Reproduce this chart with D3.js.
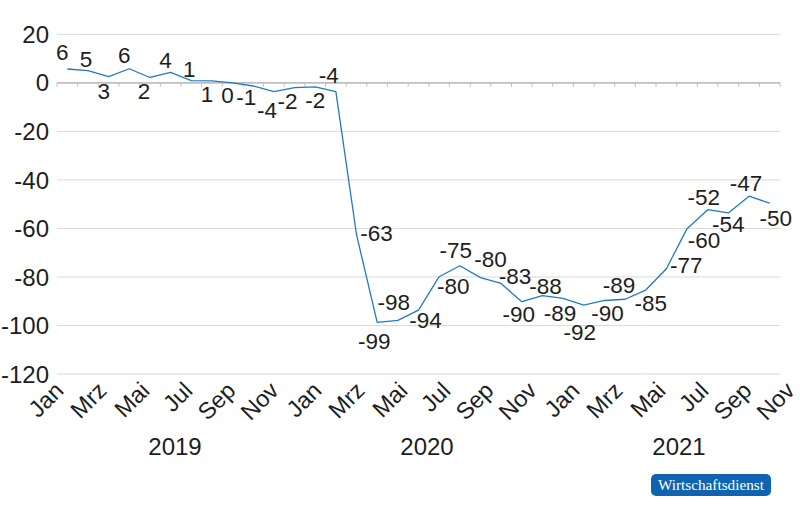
<!DOCTYPE html>
<html><head><meta charset="utf-8">
<script src="https://cdn.jsdelivr.net/npm/d3@7"></script>
<style>
html,body{margin:0;padding:0;background:#fff;}
svg{display:block;font-family:"Liberation Sans",Arial,Helvetica,sans-serif;}
</style></head>
<body><svg id="chart" width="800" height="521"></svg>
<script>
// ---- data ----
const months = ["Jan","Feb","Mrz","Apr","Mai","Jun","Jul","Aug","Sep","Okt","Nov","Dez"];
const years = ["2019","2020","2021"];
const categories = [];
years.forEach(y => months.forEach((m, i) => { if (!(y === "2021" && i === 11)) categories.push({year: y, month: m}); }));
const values = [
  5.7, 5.0, 2.6, 5.8, 2.2, 4.3, 0.9, 0.8, 0.0, -1.3, -3.6, -2.0,
  -1.7, -3.6, -62.6, -98.7, -97.9, -93.7, -79.9, -75.4, -80.3, -82.7, -90.2, -87.7,
  -88.8, -91.6, -89.7, -89.2, -85.4, -76.6, -60.1, -52.3, -53.6, -46.7, -49.6
];
const yTicks = [20, 0, -20, -40, -60, -80, -100, -120];

// label placement (pixel offsets of each data label from its point)
const labelOffsets = [
  [-5,-17],[-2,-12],[-5,14],[-5,-14],[-6,13],[-5,-12],[-2,-12],[-5,13],[-5,12],[-7,11],[-7,18],[-7,13],
  [0,13],[-7,-17],[20,-2],[-3,19],[-4,-18],[7,10],[14,9],[-4,-16],[10,-19],[14,-8],[-3,12],[3,-10],
  [-3,15],[-4,27],[3,12],[-6,-14],[5,13],[20,-4],[17,11],[-4,-13],[0,11],[-3,-13],[6,15]
];

const svg = d3.select("#chart");
const txt = "#1e1e1e";
const x = d3.scaleBand().domain(d3.range(categories.length)).range([57, 780]).padding(0);
const y = d3.scaleLinear().domain([-120, 20]).range([374, 34.3]);
const cx = i => x(i) + x.bandwidth() / 2;

// gridlines
svg.append("g").selectAll("line").data(yTicks.filter(t => t !== 0)).join("line")
  .attr("x1", 57).attr("x2", 780)
  .attr("y1", d => y(d)).attr("y2", d => y(d))
  .attr("stroke", "#d9d9d9").attr("stroke-width", 1);

// y tick labels
svg.append("g").selectAll("text").data(yTicks).join("text")
  .attr("x", 49).attr("y", d => y(d)).attr("dy", "0.36em")
  .attr("text-anchor", "end").attr("font-size", 24).attr("fill", txt)
  .text(d => d);

// zero axis with ticks
svg.append("line").attr("x1", 57).attr("x2", 780).attr("y1", y(0)).attr("y2", y(0))
  .attr("stroke", "#bfbfbf").attr("stroke-width", 1.6);
svg.append("g").selectAll("line").data(d3.range(categories.length + 1)).join("line")
  .attr("x1", i => 57 + i * x.bandwidth()).attr("x2", i => 57 + i * x.bandwidth())
  .attr("y1", y(0)).attr("y2", y(0) + 4)
  .attr("stroke", "#bfbfbf").attr("stroke-width", 1);

// line
const line = d3.line().x((d, i) => cx(i)).y(d => y(d));
svg.append("path").datum(values).attr("d", line)
  .attr("fill", "none").attr("stroke", "#2279c6").attr("stroke-width", 1.3)
  .attr("stroke-linejoin", "round");

// data labels
svg.append("g").selectAll("text").data(values).join("text")
  .attr("x", (d, i) => cx(i) + labelOffsets[i][0])
  .attr("y", (d, i) => y(d) + labelOffsets[i][1])
  .attr("dy", "0.36em").attr("text-anchor", "middle")
  .attr("font-size", 22.5).attr("fill", txt)
  .text(d => { const r = Math.round(d); return r === 0 ? "0" : String(r); });

// month labels (every second month)
const labelX = d3.scaleLinear().domain([0, categories.length - 1]).range([65, 796]);
svg.append("g").selectAll("text")
  .data(categories.map((c, i) => ({c, i})).filter(d => d.i % 2 === 0)).join("text")
  .attr("transform", d => `translate(${labelX(d.i)},392) rotate(-45)`)
  .attr("text-anchor", "end").attr("font-size", 23.5).attr("fill", txt)
  .text(d => d.c.month);

// year labels
const yearX = d3.scaleLinear().domain([5.5, 29.5]).range([175, 679]);
svg.append("g").selectAll("text").data(years).join("text")
  .attr("x", (d, k) => yearX(k * 12 + 5.5)).attr("y", 455)
  .attr("text-anchor", "middle").attr("font-size", 24).attr("fill", txt)
  .text(d => d);

// publisher badge
const badge = svg.append("g");
badge.append("rect").attr("x", 651).attr("y", 474).attr("width", 120).attr("height", 22)
  .attr("rx", 5).attr("fill", "#0f63b0");
badge.append("text").attr("x", 711).attr("y", 490).attr("text-anchor", "middle")
  .attr("font-family", "'Liberation Serif','Times New Roman',serif").attr("font-size", 15)
  .attr("textLength", 106).attr("lengthAdjust", "spacingAndGlyphs")
  .attr("fill", "#ffffff").text("Wirtschaftsdienst");
</script></body></html>
